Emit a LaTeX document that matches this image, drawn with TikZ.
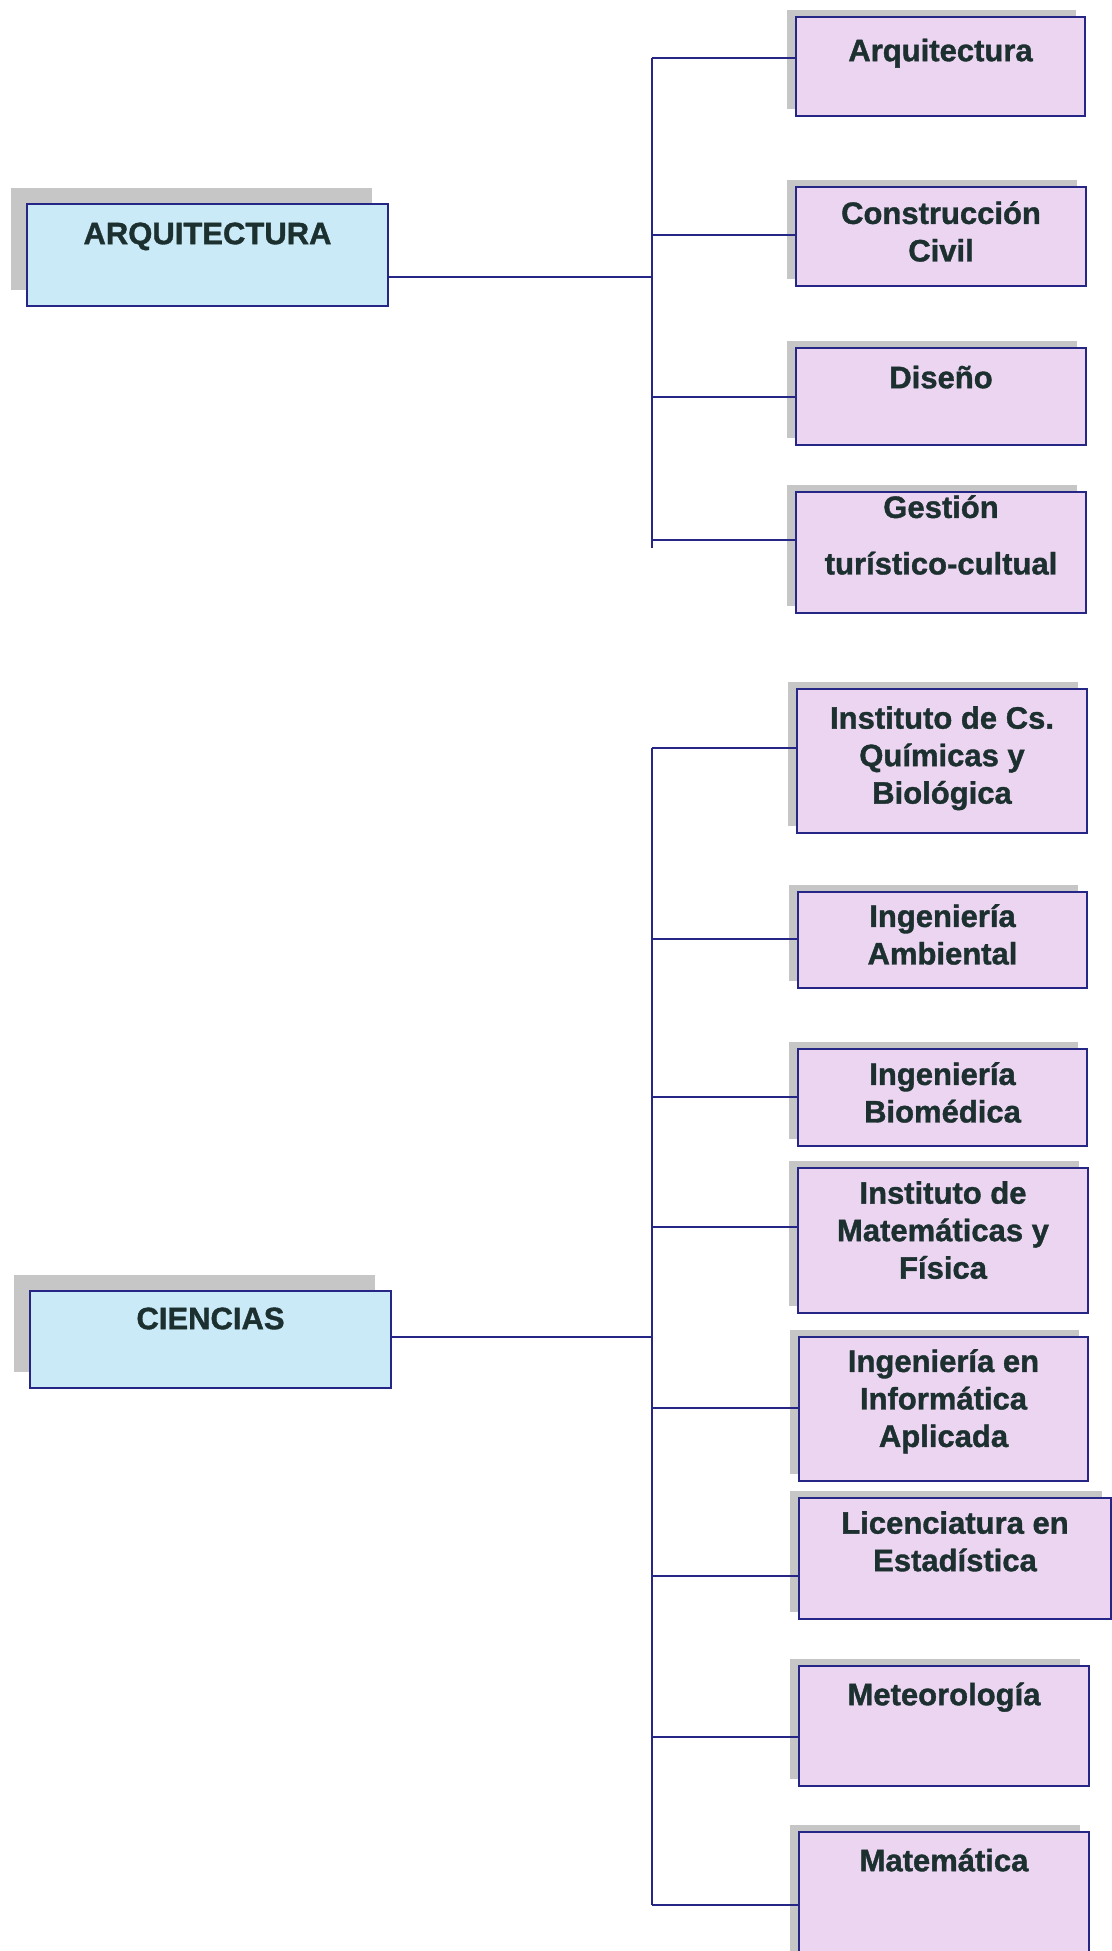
\documentclass[tikz,border=0pt]{standalone}
\usepackage{fontspec}
\setmainfont[BoldFeatures={FakeBold=1.2}]{Liberation Sans}
\usetikzlibrary{shadows}
\definecolor{bord}{RGB}{38,38,135}
\definecolor{pinkf}{RGB}{236,213,240}
\definecolor{bluef}{RGB}{202,234,248}
\definecolor{shad}{RGB}{198,198,198}
\definecolor{txt}{RGB}{28,48,48}
\tikzset{
  rbox/.style={draw=bord, line width=2pt, fill=pinkf, anchor=north west, inner sep=0pt,
    general shadow={fill=shad, draw=none, shadow xshift=-9pt, shadow yshift=7pt}},
  lbox/.style={draw=bord, line width=2pt, fill=bluef, anchor=north west, inner sep=0pt,
    general shadow={fill=shad, draw=none, shadow xshift=-16pt, shadow yshift=16pt}},
  lbl/.style={anchor=north, inner sep=0pt, align=center,
    font=\fontsize{31}{37.5}\selectfont\bfseries, text=txt,
    execute at begin node=\rule{0pt}{24pt}},
  conn/.style={draw=bord, line width=2.2pt}
}
\begin{document}
\begin{tikzpicture}[x=1pt,y=-1pt]
\useasboundingbox (0,0) rectangle (1111,1951);
\fill[white] (0,0) rectangle (1111,1951);

% left parent boxes
\node[lbox, minimum width=361pt, minimum height=102pt] (pA) at (26,203) {};
\node[lbl] (pAt) at ([yshift=-17pt]pA.north) {ARQUITECTURA};
\node[lbox, minimum width=361pt, minimum height=97pt] (pC) at (29,1290) {};
\node[lbl] (pCt) at ([yshift=-15pt]pC.north) {CIENCIAS};

% right boxes, group 1
\node[rbox, minimum width=289pt, minimum height=99pt] (a1) at (795,16) {};
\node[lbl] at ([yshift=-21pt]a1.north) {Arquitectura};
\node[rbox, minimum width=290pt, minimum height=99pt] (a2) at (795,186) {};
\node[lbl] at ([yshift=-15pt]a2.north) {Construcción\\Civil};
\node[rbox, minimum width=290pt, minimum height=97pt] (a3) at (795,347) {};
\node[lbl] at ([yshift=-17pt]a3.north) {Diseño};
\node[rbox, minimum width=290pt, minimum height=121pt] (a4) at (795,491) {};
\node[lbl] at ([yshift=-4pt]a4.north) {Gestión\\[19pt]turístico-cultual};

% right boxes, group 2
\node[rbox, minimum width=290pt, minimum height=144pt] (b1) at (796,688) {};
\node[lbl] at ([yshift=-18pt]b1.north) {Instituto de Cs.\\Químicas y\\Biológica};
\node[rbox, minimum width=289pt, minimum height=96pt] (b2) at (797,891) {};
\node[lbl] at ([yshift=-13pt]b2.north) {Ingeniería\\Ambiental};
\node[rbox, minimum width=289pt, minimum height=97pt] (b3) at (797,1048) {};
\node[lbl] at ([yshift=-14pt]b3.north) {Ingeniería\\Biomédica};
\node[rbox, minimum width=290pt, minimum height=145pt] (b4) at (797,1167) {};
\node[lbl] at ([yshift=-14pt]b4.north) {Instituto de\\Matemáticas y\\Física};
\node[rbox, minimum width=289pt, minimum height=144pt] (b5) at (798,1336) {};
\node[lbl] at ([yshift=-13pt]b5.north) {Ingeniería en\\Informática\\Aplicada};
\node[rbox, minimum width=312pt, minimum height=121pt] (b6) at (798,1497) {};
\node[lbl] at ([yshift=-14pt]b6.north) {Licenciatura en\\Estadística};
\node[rbox, minimum width=290pt, minimum height=120pt] (b7) at (798,1665) {};
\node[lbl] at ([yshift=-16pt]b7.north) {Meteorología};
\node[rbox, minimum width=290pt, minimum height=135pt] (b8) at (798,1831) {};
\node[lbl] at ([yshift=-16pt]b8.north) {Matemática};

% trunk coordinates, group 1
\coordinate (ja) at (652,277);
\coordinate (ca1) at (652,58);
\coordinate (ca2) at (652,235);
\coordinate (ca3) at (652,397);
\coordinate (ca4) at (652,540);
\coordinate (cae) at (652,548);
\draw[conn] (ja -| pA.east) -- (ja);
\draw[conn] (ca1) -- (cae);
\foreach \i in {1,...,4}{ \draw[conn] (ca\i) -- (ca\i -| a\i.west); }

% trunk coordinates, group 2
\coordinate (jb) at (652,1337);
\coordinate (cb1) at (652,748);
\coordinate (cb2) at (652,939);
\coordinate (cb3) at (652,1097);
\coordinate (cb4) at (652,1227);
\coordinate (cb5) at (652,1408);
\coordinate (cb6) at (652,1576);
\coordinate (cb7) at (652,1737);
\coordinate (cb8) at (652,1905);
\draw[conn] (jb -| pC.east) -- (jb);
\draw[conn] (cb1) -- (cb8);
\foreach \i in {1,...,8}{ \draw[conn] (cb\i) -- (cb\i -| b\i.west); }
\end{tikzpicture}
\end{document}
